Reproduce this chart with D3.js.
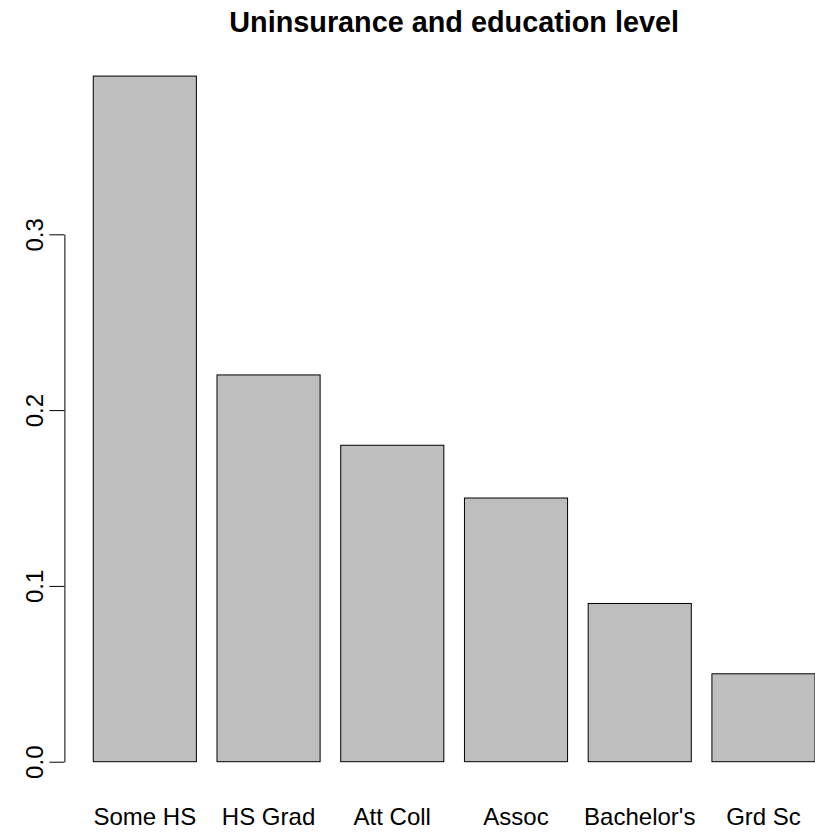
<!DOCTYPE html>
<html>
<head>
<meta charset="utf-8">
<script src="https://cdn.jsdelivr.net/npm/d3@7"></script>
<style>
  html, body { margin: 0; padding: 0; background: #fff; }
  svg { display: block; font-family: "Liberation Sans", Arial, Helvetica, sans-serif; }
</style>
</head>
<body>
<div id="chart"></div>
<script>
const categories = ["Some HS", "HS Grad", "Att Coll", "Assoc", "Bachelor's", "Grd Sc"];
const values = [0.39, 0.22, 0.18, 0.15, 0.09, 0.05];
const yTicks = [0.0, 0.1, 0.2, 0.3];
const yTickLabels = ["0.0", "0.1", "0.2", "0.3"];
const title = "Uninsurance and education level";

const W = 815, H = 832;
const svg = d3.select("#chart").append("svg").attr("width", W).attr("height", H);

const barWidth = 1, space = 0.2;
const lefts = values.map((d, i) => space + i * (barWidth + space));
const xmin = lefts[0], xmax = lefts[lefts.length - 1] + barWidth;
const xpad = (xmax - xmin) * 0.04;
const x = d3.scaleLinear().domain([xmin - xpad, xmax + xpad]).range([64.4, 843.9]);

const ymax = d3.max(values);
const ypad = ymax * 0.04;
const y = d3.scaleLinear().domain([-ypad, ymax + ypad]).range([761.7 + ypad * 1758, 761.7 - (ymax + ypad) * 1758]);

// bars
svg.append("g").selectAll("rect").data(values).join("rect")
  .attr("x", (d, i) => x(lefts[i]))
  .attr("y", d => y(d))
  .attr("width", (d, i) => x(lefts[i] + barWidth) - x(lefts[i]))
  .attr("height", d => y(0) - y(d))
  .attr("fill", "#bebebe")
  .attr("stroke", "#000")
  .attr("stroke-width", 1);

// y axis (from first to last tick, like R)
const yAxisScale = y.copy().domain([yTicks[0], yTicks[yTicks.length - 1]]).range([y(yTicks[0]), y(yTicks[yTicks.length - 1])]);
const gy = svg.append("g").attr("transform", `translate(${x.range()[0]},0)`)
  .call(d3.axisLeft(yAxisScale).tickValues(yTicks).tickFormat((d, i) => yTickLabels[i]).tickSize(15).tickSizeOuter(0));
gy.selectAll("path.domain").attr("stroke", "#000").attr("stroke-width", 1);
gy.selectAll(".tick line").attr("stroke", "#000").attr("stroke-width", 1);
gy.selectAll(".tick text")
  .attr("transform", "rotate(-90)")
  .attr("x", 0).attr("y", -21).attr("dy", null)
  .attr("text-anchor", "middle")
  .attr("fill", "#000")
  .style("font-size", "24px")
  .style("font-family", "'Liberation Sans', Arial, sans-serif");

// category labels
svg.append("g").selectAll("text").data(categories).join("text")
  .attr("x", (d, i) => x(lefts[i] + barWidth / 2))
  .attr("y", 825)
  .attr("text-anchor", "middle")
  .style("font-size", "24px")
  .attr("fill", "#000")
  .text(d => d);

// title
svg.append("text")
  .attr("x", (x.range()[0] + x.range()[1]) / 2)
  .attr("y", 32)
  .attr("text-anchor", "middle")
  .style("font-size", "28.8px")
  .style("font-weight", "bold")
  .attr("fill", "#000")
  .text(title);
</script>
</body>
</html>
